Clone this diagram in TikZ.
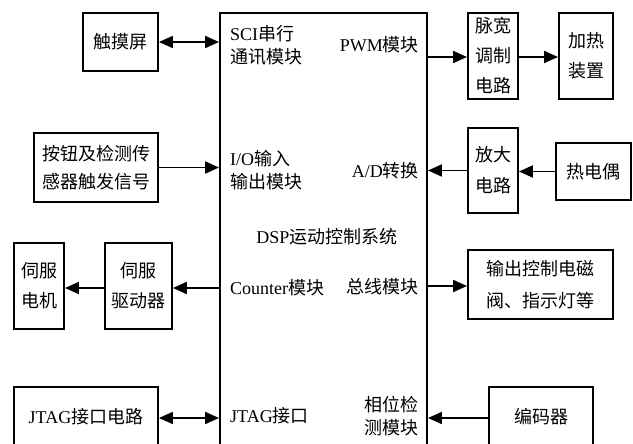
\documentclass[tikz,border=0pt]{standalone}
\usepackage{fontspec}
\setmainfont{Liberation Serif}
\newfontfamily\cjk{Noto Sans CJK SC}
\newcommand{\zh}[1]{{\cjk #1}}
\usetikzlibrary{arrows.meta}
\begin{document}
\begin{tikzpicture}[x=1pt,y=-1pt,
  blk/.style={draw, line width=1.9pt, inner sep=0pt, align=center, font=\fontsize{18}{30}\selectfont},
  lbl/.style={inner sep=0pt, align=left, anchor=west, font=\fontsize{18}{23}\selectfont},
  lblr/.style={inner sep=0pt, align=right, anchor=east, font=\fontsize{18}{23}\selectfont},
  conn/.style={line width=1.9pt},
  ar/.style={conn, -{Triangle[length=14pt,width=12pt]}},
  bar/.style={conn, {Triangle[length=14pt,width=12pt]}-{Triangle[length=14pt,width=12pt]}}
]
\useasboundingbox (0,0) rectangle (633,444);
\clip (0,0) rectangle (633,444);
\fill[white] (0,0) rectangle (633,444);

% main block
\node[draw, line width=1.9pt, minimum width=207pt, minimum height=434pt, inner sep=0pt] (main) at (323.5,230) {};
\node[inner sep=0pt, font=\fontsize{18}{23}\selectfont] (dsp) at (327,237) {DSP\zh{运动控制系统}};

% labels inside main block
\node[lbl] (sci) at (230,45) {SCI\zh{串行}\\\zh{通讯模块}};
\node[lbl] (io) at (230,170) {I/O\zh{输入}\\\zh{输出模块}};
\node[lbl] (cnt) at (230,288) {Counter\zh{模块}};
\node[lbl] (jtag) at (230,416) {JTAG\zh{接口}};
\node[lblr] (pwm) at (419,45) {PWM\zh{模块}};
\node[lblr] (ad) at (419,171) {A/D\zh{转换}};
\node[lblr] (bus) at (419,287) {\zh{总线模块}};
\node[lblr] (phase) at (419,416) {\zh{相位检}\\\zh{测模块}};

% outer blocks
\node[blk, minimum width=75pt, minimum height=58pt] (touch) at (120.5,42) {\zh{触摸屏}};
\node[blk, minimum width=124pt, minimum height=69pt, font=\fontsize{18}{28}\selectfont] (btn) at (96,167.5) {\zh{按钮及检测传}\\\zh{感器触发信号}};
\node[blk, minimum width=50pt, minimum height=86pt] (pwmc) at (493,56) {\zh{脉宽}\\\zh{调制}\\\zh{电路}};
\node[blk, minimum width=54pt, minimum height=86pt] (heat) at (586,56) {\zh{加热}\\\zh{装置}};
\node[blk, minimum width=50pt, minimum height=85pt, font=\fontsize{18}{31}\selectfont] (amp) at (493,170.5) {\zh{放大}\\\zh{电路}};
\node[blk, minimum width=75pt, minimum height=57pt] (tc) at (593.5,171.5) {\zh{热电偶}};
\node[blk, minimum width=50pt, minimum height=86pt] (motor) at (39,286) {\zh{伺服}\\\zh{电机}};
\node[blk, minimum width=67pt, minimum height=86pt] (drv) at (138.5,286) {\zh{伺服}\\\zh{驱动器}};
\node[blk, minimum width=145pt, minimum height=69pt, font=\fontsize{18}{32}\selectfont] (out) at (540.5,284.5) {\zh{输出控制电磁}\\\zh{阀、指示灯等}};
\node[blk, minimum width=144pt, minimum height=60pt] (jtagc) at (86,417) {JTAG\zh{接口电路}};
\node[blk, minimum width=104pt, minimum height=60pt] (enc) at (541,417) {\zh{编码器}};

% connectors
\draw[bar] (touch.east) -- (touch.east -| main.west);
\draw[ar] (btn.east) -- (btn.east -| main.west);
\draw[ar] ([yshift=-2pt]drv.east -| main.west) -- ([yshift=-2pt]drv.east);
\draw[ar] ([yshift=-2pt]motor.east -| drv.west) -- ([yshift=-2pt]motor.east);
\draw[bar] ([yshift=-1pt]jtagc.east) -- ([yshift=-1pt]jtagc.east -| main.west);
\draw[ar] ([yshift=-1pt]pwmc.west -| main.east) -- ([yshift=-1pt]pwmc.west);
\draw[ar] ([yshift=-1pt]pwmc.east) -- ([yshift=-1pt]heat.west);
\draw[ar] (tc.west) -- (tc.west -| amp.east);
\draw[ar] (amp.west) -- (amp.west -| main.east);
\draw[ar] ([yshift=-1.5pt]out.west -| main.east) -- ([yshift=-1.5pt]out.west);
\draw[ar] ([yshift=-1pt]enc.west) -- ([yshift=-1pt]enc.west -| main.east);
\end{tikzpicture}
\end{document}
